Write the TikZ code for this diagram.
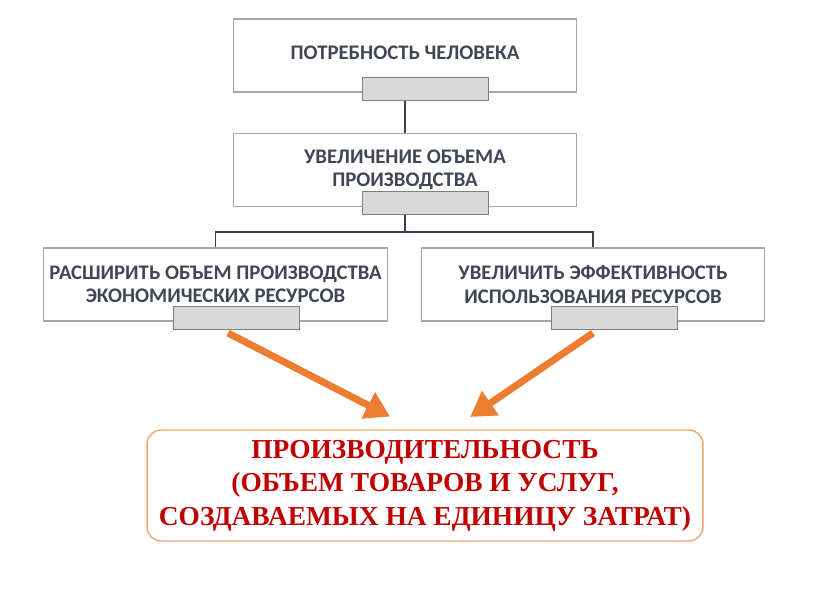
\documentclass[tikz,border=0pt]{standalone}
\usepackage{fontspec}
\setmainfont{Liberation Serif}
\newfontfamily\boxfont{Carlito}
\usetikzlibrary{arrows.meta}
\definecolor{boxtext}{HTML}{3F4756}
\definecolor{boxline}{HTML}{A6A6A6}
\definecolor{tabfill}{HTML}{D9D9D9}
\definecolor{tabline}{HTML}{7F7F7F}
\definecolor{arroworange}{HTML}{ED7D31}
\definecolor{resultred}{HTML}{C00000}
\definecolor{resultline}{HTML}{F1A46E}

\begin{document}
\begin{tikzpicture}[x=0.02cm,y=-0.02cm,>={Triangle[length=14pt,width=16pt]},
  stage/.style={draw=boxline,line width=0.6pt,minimum width=6.88cm,minimum height=1.46cm,
    align=center,text=boxtext,font=\boxfont\bfseries\fontsize{11.8}{13.2}\selectfont},
  tab/.style={draw=tabline,fill=tabfill,line width=0.5pt,minimum width=2.52cm,minimum height=0.46cm,inner sep=0pt},
  link/.style={draw=boxtext!90!black,line width=0.8pt},
  flow/.style={->,draw=arroworange,line width=4pt,shorten >=-2pt},
  result/.style={draw=resultline,line width=0.8pt,rounded corners=8pt,minimum width=11.12cm,minimum height=2.22cm,
    align=center,text=resultred,font=\bfseries\fontsize{15.6}{19}\selectfont}]
  \useasboundingbox (0,0) rectangle (816,613);
  \node[stage] (need) at (405,55.5) {\raisebox{3pt}{ПОТРЕБНОСТЬ ЧЕЛОВЕКА}};
  \node[tab] (tneed) at (425,89) {};
  \node[stage] (grow) at (405,170) {УВЕЛИЧЕНИЕ ОБЪЕМА\\ПРОИЗВОДСТВА};
  \node[tab] (tgrow) at (425,203) {};
  \node[stage] (expand) at (215.5,284.5) {РАСШИРИТЬ ОБЪЕМ ПРОИЗВОДСТВА\\ЭКОНОМИЧЕСКИХ РЕСУРСОВ};
  \node[tab] (texpand) at (236.5,317.5) {};
  \node[stage] (effic) at (593,284.5) {УВЕЛИЧИТЬ ЭФФЕКТИВНОСТЬ\\ИСПОЛЬЗОВАНИЯ РЕСУРСОВ};
  \node[tab] (teffic) at (614.5,317.5) {};
  \node[result] (prod) at (425,485.5) {ПРОИЗВОДИТЕЛЬНОСТЬ\\(ОБЪЕМ ТОВАРОВ И УСЛУГ,\\СОЗДАВАЕМЫХ НА ЕДИНИЦУ ЗАТРАТ)};

  \coordinate (split) at (405,232);
  \coordinate (fromL) at (228,333);
  \coordinate (toL) at (387,415);
  \coordinate (fromR) at (593,333);
  \coordinate (toR) at (473,415);

  \draw[link] (need.south |- tneed.south) -- (grow.north);
  \draw[link] (grow.south |- tgrow.south) -- (split);
  \draw[link] (split) -| (expand.north);
  \draw[link] (split) -| (effic.north);
  \draw[flow] (fromL) -- (toL);
  \draw[flow] (fromR) -- (toR);
\end{tikzpicture}
\end{document}
